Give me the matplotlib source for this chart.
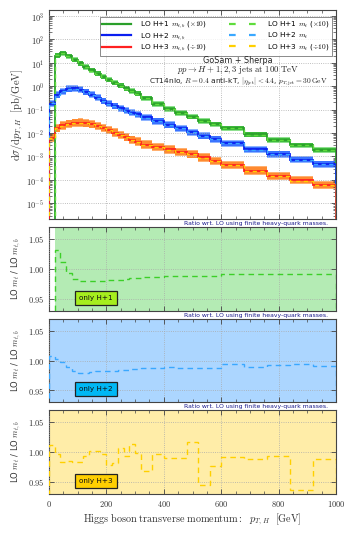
import numpy as np
import matplotlib
matplotlib.use("Agg")
import matplotlib.pyplot as plt
from matplotlib.ticker import FuncFormatter, MultipleLocator, FixedLocator, LogLocator

plt.rcParams.update({
    "font.family": "DejaVu Sans",
    "mathtext.fontset": "cm",
    "font.size": 6,
    "xtick.direction": "in",
    "ytick.direction": "in",
    "xtick.top": True,
    "ytick.right": True,
})

# bin edges of p_T,H in GeV
edges = [0, 20, 40, 60, 80, 100, 120, 140, 160, 180, 200, 220, 240, 260, 280,
         300, 320, 360, 400, 440, 480, 520, 560, 600, 680, 760, 840, 920, 1000]

# LO with m_t,b [pb/GeV]  (H+1 x10, H+3 /10)
h1_mtb = [0, 20, 25, 18.6, 13.2, 9.3, 6.6, 4.7, 3.4, 2.5, 1.86, 1.38, 1.05, 0.79,
          0.62, 0.48, 0.30, 0.174, 0.107, 0.072, 0.049, 0.033, 0.0234, 0.0158,
          0.0087, 0.0050, 0.0030, 0.00186]
h2_mtb = [0.18, 0.42, 0.60, 0.76, 0.79, 0.71, 0.56, 0.43, 0.32, 0.23, 0.18,
          0.141, 0.112, 0.091, 0.074, 0.062, 0.046, 0.032, 0.0224, 0.0158,
          0.0107, 0.0076, 0.0055, 0.0036, 0.0020, 0.00126, 0.00074, 0.00047]
h3_mtb = [0.0063, 0.0158, 0.021, 0.025, 0.0275, 0.028, 0.026, 0.0234, 0.020,
          0.0166, 0.0132, 0.0105, 0.0083, 0.0066, 0.0052, 0.0043, 0.0032,
          0.0025, 0.0020, 0.00158, 0.00123, 0.00091, 0.00063, 0.00043,
          0.00025, 0.000145, 0.000098, 0.000062]

# ratio LO m_t / LO m_t,b
r1 = [np.nan, 1.031, 1.011, 0.993, 0.983, 0.979, 0.979, 0.979, 0.979, 0.980,
      0.981, 0.981, 0.982, 0.983, 0.985, 0.985, 0.986, 0.987, 0.988, 0.988,
      0.988, 0.988, 0.988, 0.991, 0.991, 0.991, 0.991, 0.991]
r2 = [1.008, 1.003, 0.997, 0.990, 0.982, 0.980, 0.980, 0.981, 0.982, 0.982,
      0.983, 0.983, 0.984, 0.985, 0.986, 0.986, 0.987, 0.988, 0.989, 0.988,
      0.988, 0.988, 0.988, 0.995, 0.989, 0.992, 0.994, 0.991]
r3 = [1.011, 0.997, 0.983, 0.985, 0.984, 0.983, 0.993, 1.001, 1.001, 0.996,
      0.978, 0.981, 1.007, 0.994, 1.013, 0.999, 0.969, 0.997, 0.990, 0.990,
      1.016, 0.945, 0.976, 0.992, 0.989, 0.993, 0.937, 0.989]

# scale-uncertainty band factors
band_fac = [1.3, 1.4, 1.5]

edges = np.array(edges, dtype=float)
series = [np.array(h1_mtb), np.array(h2_mtb), np.array(h3_mtb)]
ratios = [np.array(r1), np.array(r2), np.array(r3)]

solid_c = ["#2a9f2a", "#0a1ef0", "#ff2020"]
dash_c = ["#5fdc3c", "#3aa8ff", "#ffd000"]
band_c = ["#3cb83c", "#3a72ff", "#ff8a30"]
band_edge_c = ["#8fe08f", "#8fb4ff", "#ffb070"]
bg_c = ["#b4ebb4", "#acd6ff", "#ffeda8"]
box_c = ["#a6ee1e", "#00b8f5", "#ffcf00"]
labels_s = [r"LO H+1 $m_{t,b}$ ($\times 10$)", r"LO H+2 $m_{t,b}$",
            r"LO H+3 $m_{t,b}$ ($\div 10$)"]
labels_d = [r"LO H+1 $m_t$ ($\times 10$)", r"LO H+2 $m_t$",
            r"LO H+3 $m_t$ ($\div 10$)"]

fig = plt.figure(figsize=(3.49, 5.43), dpi=100)
W, H = 349.0, 543.0
def axes_px(x0, y0, x1, y1):
    return fig.add_axes([x0 / W, 1 - y1 / H, (x1 - x0) / W, (y1 - y0) / H])

ax = axes_px(49, 10, 336, 219.3)
rax = [axes_px(49, 226.7, 336, 310.7),
       axes_px(49, 319, 336, 402.3),
       axes_px(49, 410, 336, 494)]

frame_c = "#444444"
def style(a):
    for s in a.spines.values():
        s.set_color(frame_c)
        s.set_linewidth(0.8)
    a.tick_params(which="both", colors=frame_c, labelcolor="#333333",
                  labelsize=6)
    a.tick_params(which="major", length=3.5, width=0.6)
    a.tick_params(which="minor", length=2, width=0.5)
    a.grid(True, which="major", ls=":", color="#aaaaaa", lw=0.6)
    a.set_axisbelow(False)

# main panel
for i in range(3):
    v = series[i]
    f = band_fac[i]
    for k in range(len(v)):
        if v[k] <= 0:
            continue
        ax.fill_between([edges[k], edges[k + 1]], v[k] / f, v[k] * f,
                        color=band_edge_c[i], lw=0, zorder=2)
        ax.fill_between([edges[k], edges[k + 1]], v[k] / f ** 0.8,
                        v[k] * f ** 0.8, color=band_c[i], lw=0, zorder=2)
handles_s, handles_d = [], []
for i in range(3):
    v = series[i].copy()
    v[v <= 0] = 1e-12
    ax.stairs(v, edges, color=solid_c[i], lw=1.3, zorder=3)
    handles_s.append(plt.Line2D([], [], color=solid_c[i], lw=1.6))
    m = series[i] > 0
    first = np.argmax(m)
    vd = series[i][first:] * np.nan_to_num(ratios[i][first:], nan=1.0)
    ax.stairs(vd, edges[first:], color=dash_c[i], lw=1.0, ls=(0, (3, 2.5)),
              zorder=4)
    handles_d.append(plt.Line2D([], [], color=dash_c[i], lw=1.6, ls=(0, (3, 6))))

ax.set_yscale("log")
ax.set_ylim(2.1e-6, 1750)
ax.set_xlim(0, 1000)
ax.yaxis.set_major_locator(LogLocator(base=10, numticks=20))
ax.yaxis.set_minor_locator(LogLocator(base=10, subs=np.arange(2, 10), numticks=20))
ax.yaxis.set_major_formatter(FuncFormatter(lambda v, p: r"$10^{%d}$" % round(np.log10(v))))
ax.yaxis.set_minor_formatter(FuncFormatter(lambda v, p: ""))
ax.xaxis.set_major_locator(MultipleLocator(200))
ax.xaxis.set_minor_locator(MultipleLocator(50))
ax.set_xticklabels([])
style(ax)
ax.set_ylabel(r"$\mathrm{d}\sigma/\mathrm{d}p_{T,H}\ \ [\mathrm{pb/GeV}]$", fontsize=7.5,
              color="#333333", labelpad=1)

leg = ax.legend(handles_s + handles_d, labels_s + labels_d, ncol=2, loc="upper right",
                bbox_to_anchor=(0.998, 0.983), fontsize=5.3, frameon=True, fancybox=False,
                edgecolor="#555555", handlelength=4.0, handletextpad=1.2,
                handleheight=0.5, columnspacing=3.0, borderpad=0.3,
                labelspacing=0.15)
leg.get_frame().set_linewidth(0.6)
leg.set_zorder(10)

ax.text(0.659, 0.758, "GoSam + Sherpa", transform=ax.transAxes, ha="center",
        va="center", fontsize=5.8, color="#222222", zorder=11)
ax.text(0.659, 0.713, r"$pp \to H+1,2,3\ \mathrm{jets\ at\ 100\ TeV}$",
        transform=ax.transAxes, ha="center", va="center", fontsize=6.3,
        color="#222222", zorder=11)
ax.text(0.659, 0.662,
        r"CT14nlo, $R=0.4$ anti-kT, $|\eta_{\mathrm{jet}}|<4.4$, $p_{T,\mathrm{jet}}=30\,\mathrm{GeV}$",
        transform=ax.transAxes, ha="center", va="center", fontsize=5.4,
        color="#222222", zorder=11)

# ratio panels
for i in range(3):
    a = rax[i]
    r = ratios[i]
    m = ~np.isnan(r)
    first = np.argmax(m)
    a.fill_between([edges[first], edges[-1]], 0.5, 1.5, color=bg_c[i], lw=0, zorder=1)
    a.stairs(r[first:], edges[first:], color=dash_c[i] if i != 0 else "#3ccf28",
             lw=1.0, ls=(0, (4, 3)), zorder=4)
    a.set_xlim(0, 1000)
    a.set_ylim(0.93, 1.07)
    a.yaxis.set_major_locator(FixedLocator([0.95, 1.00, 1.05]))
    a.yaxis.set_minor_locator(FixedLocator([]))
    a.yaxis.set_major_formatter(FuncFormatter(lambda v, p: r"$%.2f$" % v))
    a.xaxis.set_major_locator(MultipleLocator(200))
    a.xaxis.set_minor_locator(MultipleLocator(50))
    style(a)
    a.set_ylabel(r"LO $m_t$ / LO $m_{t,b}$", fontsize=6, color="#333333", labelpad=3)
    a.text(0.972, 1.01, "Ratio wrt. LO using finite heavy-quark masses.",
           transform=a.transAxes, ha="right", va="bottom", fontsize=4.4,
           color="#1a1a8c")
    a.text(0.105, 0.155, "only H+%d" % (i + 1), transform=a.transAxes,
           ha="left", va="center", fontsize=5.2, color="#111111", zorder=6,
           bbox=dict(boxstyle="square,pad=0.55", fc=box_c[i], ec="#222222", lw=0.9))
    if i < 2:
        a.set_xticklabels([])
    else:
        a.xaxis.set_major_formatter(FuncFormatter(lambda v, p: r"$%d$" % v))
        a.set_xlabel(r"$\mathrm{Higgs\ boson\ transverse\ momentum:}\ \ p_{T,\,H}\ \ [\mathrm{GeV}]$",
                     fontsize=7.3, color="#333333", labelpad=2)

fig.align_ylabels([ax] + rax)
fig.savefig("out.png", dpi=100)
